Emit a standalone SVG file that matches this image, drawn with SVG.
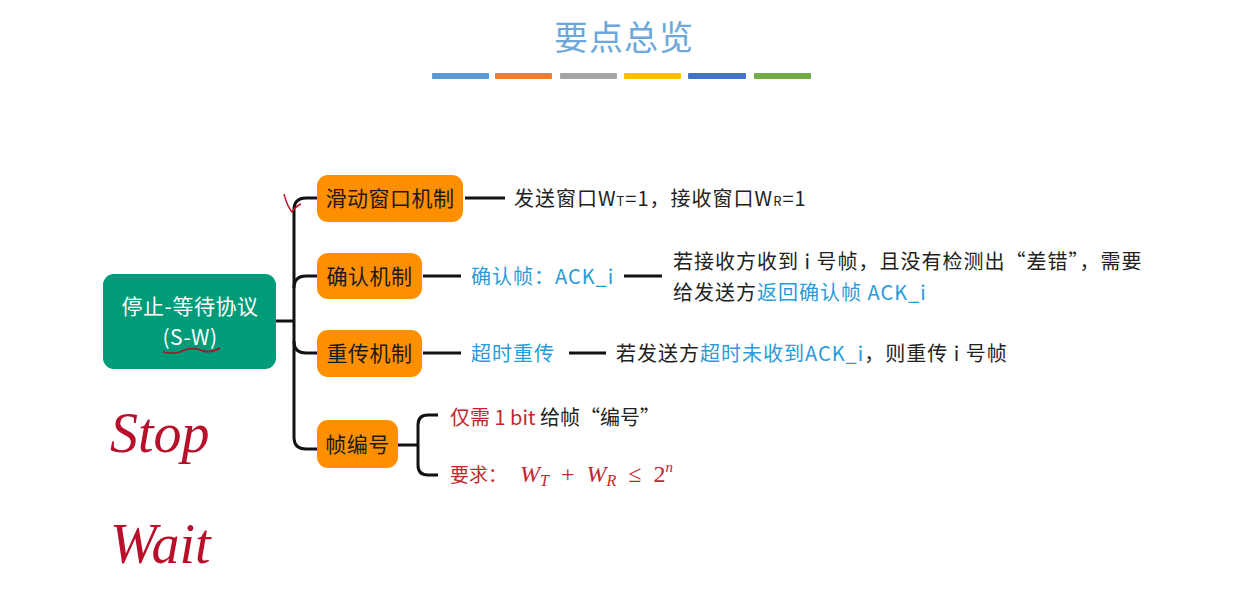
<svg xmlns="http://www.w3.org/2000/svg" width="1251" height="612" viewBox="0 0 1251 612">
<style>
.cjk{font-family:"Noto Sans CJK SC","Noto Sans",sans-serif}
.node{fill:#fd8f00}
.ntxt{font-size:21px;fill:#1a1a1a;text-anchor:middle;letter-spacing:0.5px}
.txt{font-size:20px;fill:#222;letter-spacing:1px}
.blue{fill:#2a9bd8}
.red{fill:#c4262e}
.conn{fill:none;stroke:#111;stroke-width:3}
.math{font-family:"Liberation Serif","DejaVu Serif",serif;font-size:24px;fill:#c4262e}
.sub{font-size:13px}
</style>
<rect width="1251" height="612" fill="#ffffff"/>
<g id="title">
<text x="624" y="50" text-anchor="middle" class="cjk" font-size="34" fill="#6ea8db" letter-spacing="1">要点总览</text>
<rect x="432" y="73" width="57" height="6" rx="1" fill="#5b9bd5"/>
<rect x="495" y="73" width="57" height="6" rx="1" fill="#ed7d31"/>
<rect x="560" y="73" width="57" height="6" rx="1" fill="#a5a5a5"/>
<rect x="624" y="73" width="57" height="6" rx="1" fill="#ffc000"/>
<rect x="688" y="73" width="58" height="6" rx="1" fill="#4472c4"/>
<rect x="754" y="73" width="57" height="6" rx="1" fill="#70ad47"/>
</g>
<g id="connectors">
<path class="conn" d="M276 321 H294"/>
<path class="conn" d="M317 198 H306 Q294 198 294 210 V437 Q294 449 306 449 H317"/>
<path class="conn" d="M317 276 H306 Q294 276 294 288"/>
<path class="conn" d="M317 353 H306 Q294 353 294 341"/>
<path class="conn" d="M465 198 H505"/>
<path class="conn" d="M423 276 H461"/>
<path class="conn" d="M624 276 H662"/>
<path class="conn" d="M423 353 H461"/>
<path class="conn" d="M569 353 H606"/>
<path class="conn" d="M398 445 H418"/>
<path class="conn" d="M438 415 H428 Q418 415 418 425 V465 Q418 475 428 475 H438"/>
</g>
<g id="root">
<rect x="103" y="274" width="173" height="95" rx="11" fill="#009b78"/>
<text x="190" y="314" text-anchor="middle" class="cjk" font-size="21" fill="#ffffff" letter-spacing="0.5">停止-等待协议</text>
<text x="190" y="345" text-anchor="middle" class="cjk" font-size="21" fill="#ffffff" letter-spacing="0.5">(S-W)</text>
</g>
<g id="n1">
<rect class="node" x="317" y="175" width="146" height="47" rx="11"/>
<text class="cjk ntxt" x="390" y="206">滑动窗口机制</text>
</g>
<g id="n2">
<rect class="node" x="317" y="253" width="105" height="46" rx="11"/>
<text class="cjk ntxt" x="369.5" y="284">确认机制</text>
</g>
<g id="n3">
<rect class="node" x="317" y="330" width="105" height="47" rx="11"/>
<text class="cjk ntxt" x="369.5" y="361">重传机制</text>
</g>
<g id="n4">
<rect class="node" x="317" y="420" width="81" height="48" rx="11"/>
<text class="cjk ntxt" x="357.5" y="452">帧编号</text>
</g>
<g id="t1">
<text class="cjk txt" x="514" y="206">发送窗口W<tspan class="sub">T</tspan>=1，接收窗口W<tspan class="sub">R</tspan>=1</text>
</g>
<g id="t2">
<text class="cjk txt blue" x="471" y="284">确认帧：ACK_i</text>
</g>
<g id="t3">
<text class="cjk txt" x="673" y="269">若接收方收到 i 号帧，且没有检测出“差错”，需要</text>
<text class="cjk txt" x="673" y="300">给发送方<tspan class="blue">返回确认帧 ACK_i</tspan></text>
</g>
<g id="t4">
<text class="cjk txt blue" x="471" y="361">超时重传</text>
</g>
<g id="t5">
<text class="cjk txt" x="616" y="361">若发送方<tspan class="blue">超时未收到ACK_i</tspan>，则重传 i 号帧</text>
</g>
<g id="t6">
<text class="cjk txt" x="450" y="425" style="letter-spacing:0"><tspan class="red">仅需 1 bit</tspan> 给帧“编号”</text>
</g>
<g id="t7">
<text class="cjk red" x="450" y="482" font-size="19">要求：</text>
<text class="math" x="520" y="482" xml:space="preserve"><tspan font-style="italic">W</tspan><tspan font-style="italic" font-size="16" dy="4">T</tspan><tspan dy="-4">  +  </tspan><tspan font-style="italic">W</tspan><tspan font-style="italic" font-size="16" dy="4">R</tspan><tspan dy="-4">  ≤  2</tspan><tspan font-style="italic" font-size="15" dy="-10">n</tspan></text>
</g>
<g id="annotations">
<path d="M284 194 Q287 206 292 212 Q296 206 301 204" fill="none" stroke="#c0102a" stroke-width="1.4"/>
<path d="M163 352 Q175 355 185 350 Q195 347 203 351 Q212 353 220 348" fill="none" stroke="#b0102a" stroke-width="1.8"/>
<text x="110" y="452" font-family="Liberation Serif,serif" font-style="italic" font-size="56" fill="#b8102a">Stop</text>
<text x="110" y="563" font-family="Liberation Serif,serif" font-style="italic" font-size="56" fill="#b8102a">Wait</text>
</g>
</svg>
